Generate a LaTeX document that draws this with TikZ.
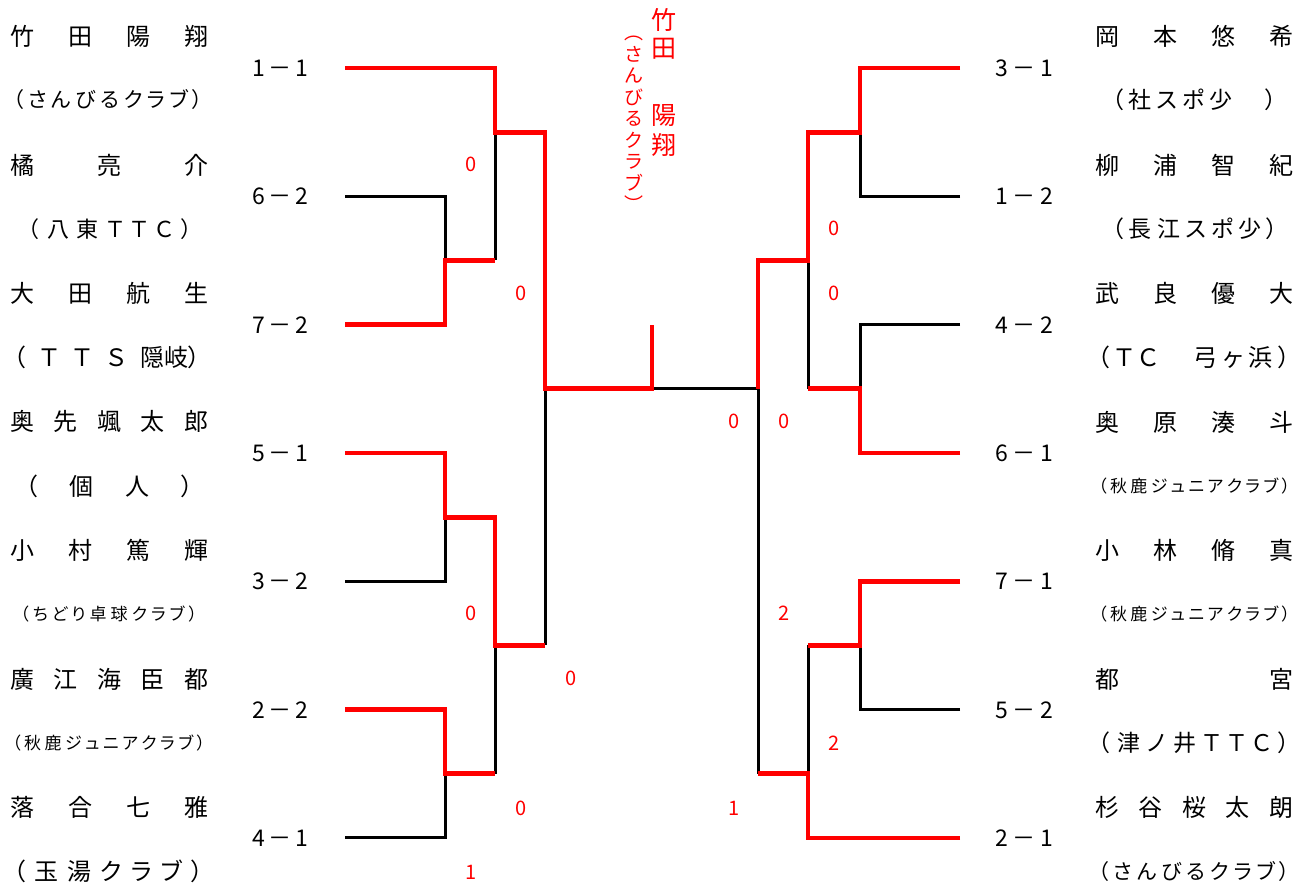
\documentclass[tikz,border=0pt]{standalone}
\usepackage{fontspec}
\setmainfont{Noto Sans CJK JP}[RawFeature=+palt]
\makeatletter
% 文字を指定幅に均等割り付け
\newcommand\spreadtext[2]{\makebox[#1][l]{\def\sp@sep{}\@tfor\sp@c:=#2\do{\sp@sep\sp@c\def\sp@sep{\hfill}}}}
\makeatother
\tikzset{
  winline/.style={red, line width=4.8pt},
  loseline/.style={black, line width=3pt},
  player/.style={anchor=west, inner sep=0pt, font=\fontsize{24}{28}\selectfont},
  club/.style={anchor=west, inner sep=0pt, font=\fontsize{#1}{#1}\selectfont},
  club/.default=21,
  seedno/.style={anchor=west, inner sep=0pt, font=\fontsize{23}{26}\selectfont},
  score/.style={red, inner sep=0pt, font=\fontsize{20}{22}\selectfont},
}

\begin{document}
\begin{tikzpicture}[x=1pt,y=-1pt]
  \useasboundingbox (0,0) rectangle (1310,889);

  % ================= トーナメント線 =================
  \begin{scope}[yshift=-68pt, y=-128.33pt]
    \def\xA{345}  % 左 出発
    \def\xB{445}  % 左 1回戦
    \def\xC{495}  % 左 2回戦
    \def\xD{545}  % 左 準決勝
    \def\xM{652}  % 決勝
    \def\xE{758}  % 右 準決勝
    \def\xF{808}  % 右 2回戦
    \def\xG{860}  % 右 1回戦
    \def\xH{960}  % 右 出発

    % 左ブロック（敗者）
    \draw[loseline] (\xA,1) -- (\xB,1) -- (\xB,1.5);
    \draw[loseline] (\xC,0.5) -- (\xC,1.5);
    \draw[loseline] (\xA,4) -- (\xB,4) -- (\xB,3.5);
    \draw[loseline] (\xA,6) -- (\xB,6) -- (\xB,5.5);
    \draw[loseline] (\xC,5.5) -- (\xC,4.5);
    \draw[loseline] (\xD,2.5) -- (\xD,4.5);
    \draw[loseline] (\xM,2.5) -- (\xE,2.5);

    % 右ブロック（敗者）
    \draw[loseline] (\xH,1) -- (\xG,1) -- (\xG,0.5);
    \draw[loseline] (\xH,2) -- (\xG,2) -- (\xG,2.5);
    \draw[loseline] (\xF,1.5) -- (\xF,2.5);
    \draw[loseline] (\xH,5) -- (\xG,5) -- (\xG,4.5);
    \draw[loseline] (\xF,4.5) -- (\xF,5.5);
    \draw[loseline] (\xE,2.5) -- (\xE,5.5);

    % 左ブロック（勝ち上がり）
    \draw[winline] (\xA,0) -- (\xC,0) -- (\xC,0.5) -- (\xD,0.5) -- (\xD,2.5) -- (\xM,2.5) -- (\xM,2);
    \draw[winline] (\xA,2) -- (\xB,2) -- (\xB,1.5) -- (\xC,1.5);
    \draw[winline] (\xA,3) -- (\xB,3) -- (\xB,3.5) -- (\xC,3.5) -- (\xC,4.5) -- (\xD,4.5);
    \draw[winline] (\xA,5) -- (\xB,5) -- (\xB,5.5) -- (\xC,5.5);

    % 右ブロック（勝ち上がり）
    \draw[winline] (\xH,0) -- (\xG,0) -- (\xG,0.5) -- (\xF,0.5) -- (\xF,1.5) -- (\xE,1.5) -- (\xE,2.5);
    \draw[winline] (\xH,3) -- (\xG,3) -- (\xG,2.5) -- (\xF,2.5);
    \draw[winline] (\xH,4) -- (\xG,4) -- (\xG,4.5) -- (\xF,4.5);
    \draw[winline] (\xH,6) -- (\xF,6) -- (\xF,5.5) -- (\xE,5.5);
  \end{scope}

  % ================= 左側 選手名・所属 =================
  \node[player] (pL1) at (10,36)  {\spreadtext{198pt}{竹田陽翔}};
  \node[player] (pL2) at (10,165) {\spreadtext{198pt}{橘亮介}};
  \node[player] (pL3) at (10,293) {\spreadtext{198pt}{大田航生}};
  \node[player] (pL4) at (10,422) {\spreadtext{198pt}{奥先颯太郎}};
  \node[player] (pL5) at (10,550) {\spreadtext{198pt}{小村篤輝}};
  \node[player] (pL6) at (10,679) {\spreadtext{198pt}{廣江海臣都}};
  \node[player] (pL7) at (10,807) {\spreadtext{198pt}{落合七雅}};
  \node[club]    (cL1) at (13,100) {\spreadtext{190pt}{（さんびるクラブ）}};
  \node[club=22] (cL2) at (28,229) {\spreadtext{164pt}{（八東ＴＴＣ）}};
  \node[club=24] (cL3) at (13,357) {\spreadtext{187pt}{（ＴＴＳ{隠岐）}}};
  \node[club=24] (cL4) at (25,486) {\spreadtext{168pt}{（個人）}};
  \node[club=17] (cL5) at (20,614) {\spreadtext{177pt}{（ちどり卓球クラブ）}};
  \node[club=17] (cL6) at (12,743) {\spreadtext{193pt}{（秋鹿ジュニアクラブ）}};
  \node[club=24] (cL7) at (13,871) {\spreadtext{190pt}{（玉湯クラブ）}};

  % ================= 右側 選手名・所属 =================
  \node[player] (pR1) at (1095,36)  {\spreadtext{198pt}{岡本悠希}};
  \node[player] (pR2) at (1095,165) {\spreadtext{198pt}{柳浦智紀}};
  \node[player] (pR3) at (1095,293) {\spreadtext{198pt}{武良優大}};
  \node[player] (pR4) at (1095,422) {\spreadtext{198pt}{奥原湊斗}};
  \node[player] (pR5) at (1095,550) {\spreadtext{198pt}{小林脩真}};
  \node[player] (pR6) at (1095,679) {\spreadtext{198pt}{都宮}};
  \node[player] (pR7) at (1095,807) {\spreadtext{198pt}{杉谷桜太朗}};
  \node[club=23] (cR1) at (1112,100) {\spreadtext{165pt}{（社スポ少　）}};
  \node[club=23] (cR2) at (1112,229) {\spreadtext{166pt}{（長江スポ少）}};
  \node[club=24] (cR3) at (1097,357) {\spreadtext{193pt}{（ＴＣ　弓ヶ浜）}};
  \node[club=17] (cR4) at (1098,486) {\spreadtext{192pt}{（秋鹿ジュニアクラブ）}};
  \node[club=17] (cR5) at (1098,614) {\spreadtext{192pt}{（秋鹿ジュニアクラブ）}};
  \node[club=23] (cR6) at (1098,743) {\spreadtext{192pt}{（津ノ井ＴＴＣ）}};
  \node[club]    (cR7) at (1098,871) {\spreadtext{192pt}{（さんびるクラブ）}};

  % ================= 抽選番号 =================
  \node[seedno] (sL1) at (252,68)  {\spreadtext{56pt}{1－1}};
  \node[seedno] (sL2) at (252,196) {\spreadtext{56pt}{6－2}};
  \node[seedno] (sL3) at (252,325) {\spreadtext{56pt}{7－2}};
  \node[seedno] (sL4) at (252,453) {\spreadtext{56pt}{5－1}};
  \node[seedno] (sL5) at (252,581) {\spreadtext{56pt}{3－2}};
  \node[seedno] (sL6) at (252,710) {\spreadtext{56pt}{2－2}};
  \node[seedno] (sL7) at (252,838) {\spreadtext{56pt}{4－1}};
  \node[seedno] (sR1) at (995,68)  {\spreadtext{58pt}{3－1}};
  \node[seedno] (sR2) at (995,196) {\spreadtext{58pt}{1－2}};
  \node[seedno] (sR3) at (995,325) {\spreadtext{58pt}{4－2}};
  \node[seedno] (sR4) at (995,453) {\spreadtext{58pt}{6－1}};
  \node[seedno] (sR5) at (995,581) {\spreadtext{58pt}{7－1}};
  \node[seedno] (sR6) at (995,710) {\spreadtext{58pt}{5－2}};
  \node[seedno] (sR7) at (995,838) {\spreadtext{58pt}{2－1}};

  % ================= 得点 =================
  \node[score] (scL1) at (471,164) {0};
  \node[score] (scL2) at (521,293) {0};
  \node[score] (scL3) at (471,613) {0};
  \node[score] (scL4) at (571,678) {0};
  \node[score] (scL5) at (521,808) {0};
  \node[score] (scL6) at (471,872) {1};
  \node[score] (scR1) at (834,228) {0};
  \node[score] (scR2) at (834,293) {0};
  \node[score] (scR3) at (734,421) {0};
  \node[score] (scR4) at (784,421) {0};
  \node[score] (scR5) at (784,613) {2};
  \node[score] (scR6) at (834,743) {2};
  \node[score] (scR7) at (734,808) {1};

  % ================= 優勝者（縦書き） =================
  \node[red, inner sep=0pt, align=center, font=\fontsize{25}{28}\selectfont] (champA) at (664,34) {竹\\田};
  \node[red, inner sep=0pt, align=center, font=\fontsize{25}{30}\selectfont] (champB) at (664,130) {陽\\翔};
  \node[red, inner sep=0pt, align=center, font=\fontsize{19}{21.5}\selectfont] (champC) at (634,124)
    {︵\\さ\\ん\\び\\る\\ク\\ラ\\ブ\\︶};
\end{tikzpicture}
\end{document}
